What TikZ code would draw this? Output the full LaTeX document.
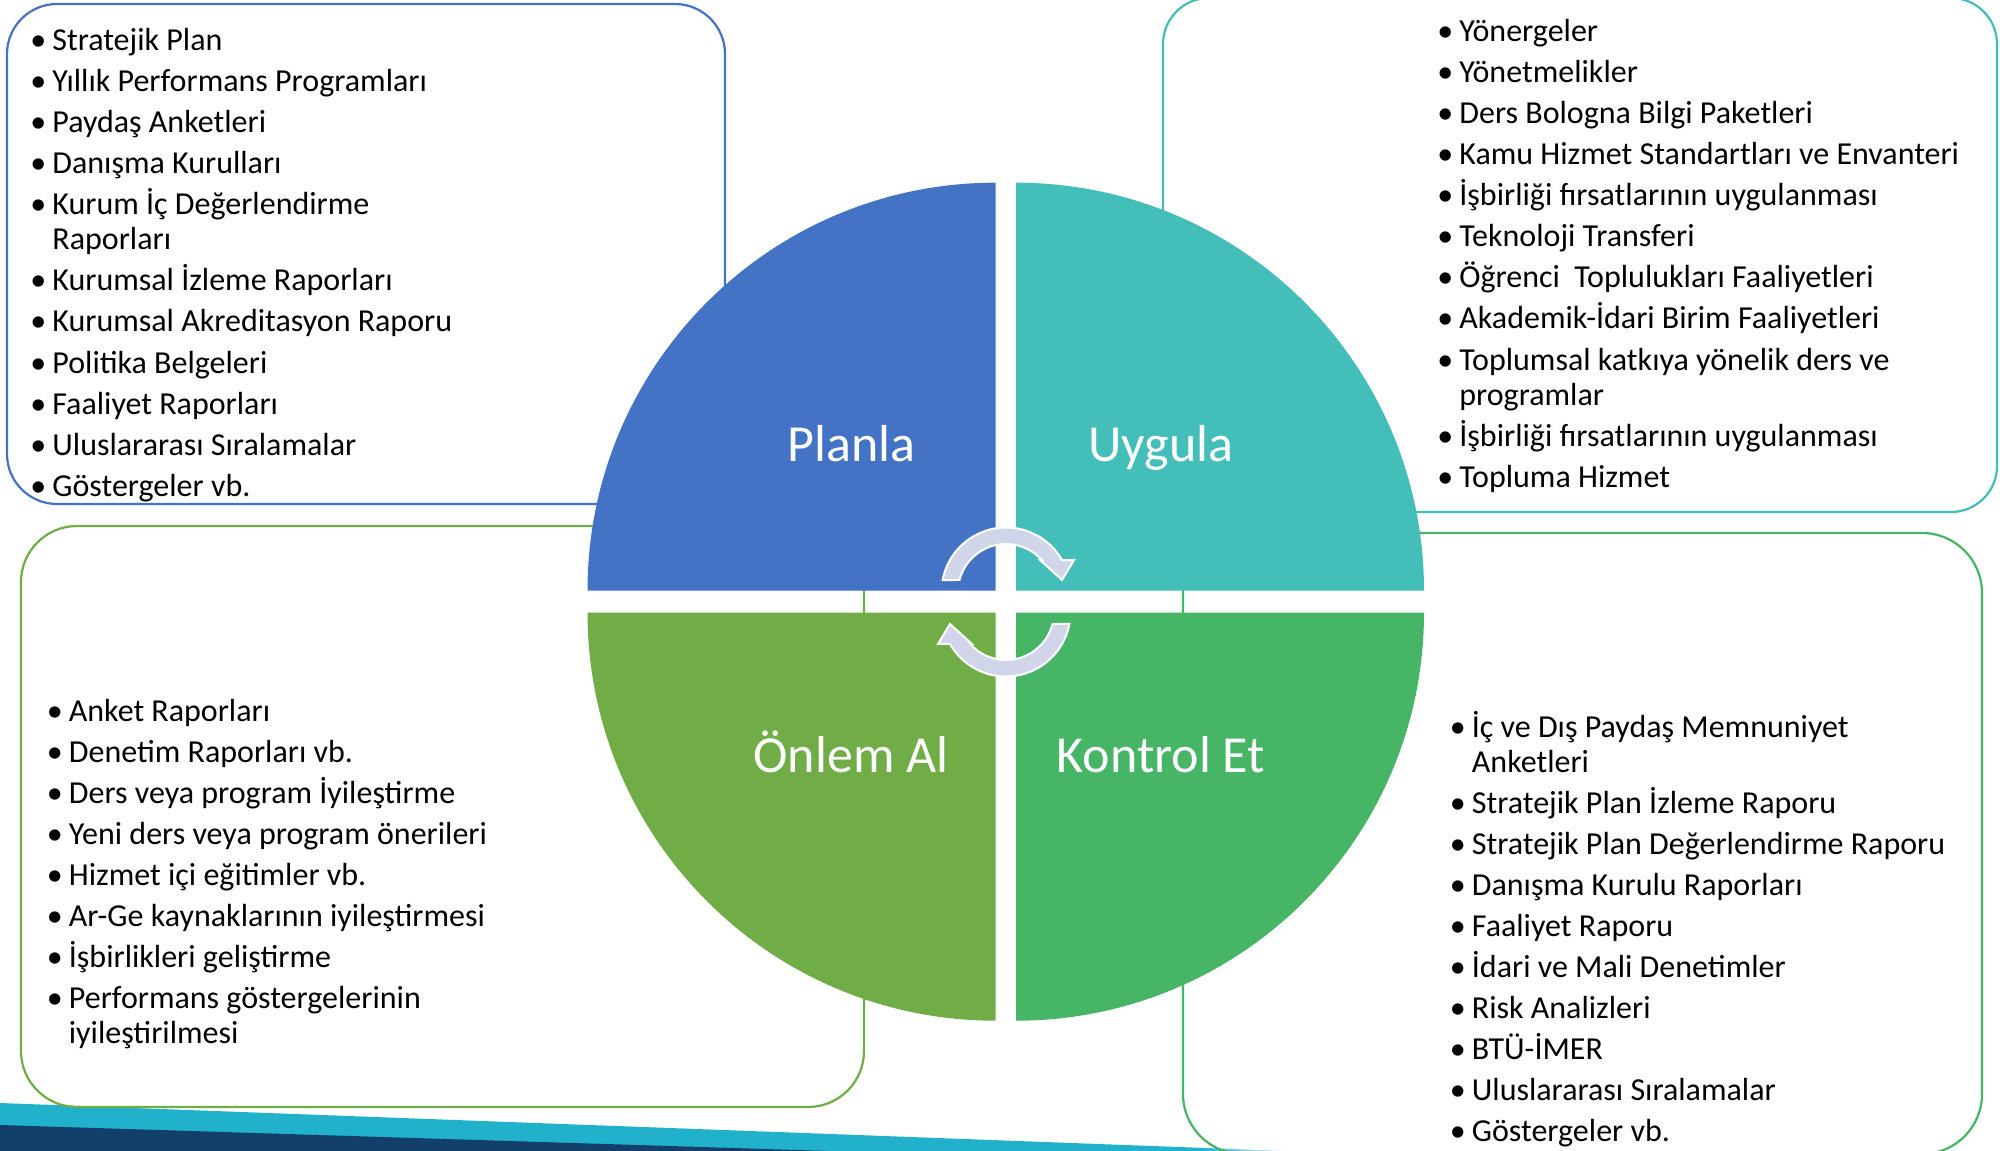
\documentclass[tikz,border=0pt]{standalone}
\usepackage{fontspec}
\setmainfont{Carlito}
\definecolor{cblue}{HTML}{4472C4}
\definecolor{cteal}{HTML}{43BEB8}
\definecolor{cgreenA}{HTML}{70AD47}
\definecolor{cgreenB}{HTML}{47B566}
\definecolor{carrow}{HTML}{D0D5EA}
\definecolor{ccyan}{HTML}{21B1CB}
\definecolor{cnavy}{HTML}{12406A}
\newlength\bw
\setlength\bw{11bp}
\newcommand\bl[1]{\par\hangindent=\bw\hangafter=1\noindent\makebox[\bw][l]{\textbullet}#1}
\newcommand\blist[2]{\parbox[t]{#1}{\fontsize{16bp}{17.5bp}\selectfont\setlength\parskip{3bp}#2}}
\begin{document}
\begin{tikzpicture}[x=0.5bp,y=0.5bp,
  boxline/.style={line width=1.1bp, rounded corners=#1},
  listnode/.style={anchor=base west, inner sep=0pt, text=black},
  qlabel/.style={anchor=base, inner sep=0pt, text=white, font=\fontsize{26bp}{30bp}\selectfont},
  arrowshape/.style={fill=carrow, draw=white, line width=1bp, line join=miter}]
\useasboundingbox (0,0) rectangle (2000,-1151);
\fill[white] (0,0) rectangle (2000,-1151);
% bottom stripes
\fill[ccyan] (0,-1103) -- (1200,-1147.8) -- (1200,-1160) -- (0,-1160) -- cycle;
\shade[left color=ccyan, right color=white] (1200,-1147.8) -- (1300,-1151.5) -- (1300,-1160) -- (1200,-1160) -- cycle;
\fill[cnavy] (0,-1125) -- (829,-1151) -- (829,-1160) -- (0,-1160) -- cycle;
% boxes
\draw[boxline=25bp, draw=cblue] (7,-4) rectangle (725,-504);
\draw[boxline=23bp, draw=cteal] (1163,2) rectangle (1997,-512);
\draw[boxline=28bp, draw=cgreenA] (21,-526) rectangle (864,-1107);
\draw[boxline=30bp, draw=cgreenB] (1183,-533) rectangle (1982,-1154);
% quadrants
\fill[cblue] (995.5,-590.7) -- (587.5,-590.7) arc[start angle=180,end angle=90,radius=408] -- cycle;
\fill[cteal] (1016,-590.7) -- (1016,-182.7) arc[start angle=90,end angle=0,radius=408] -- cycle;
\fill[cgreenA] (995.5,-612.7) -- (995.5,-1020.7) arc[start angle=270,end angle=180,radius=408] -- cycle;
\fill[cgreenB] (1016,-612.7) -- (1424,-612.7) arc[start angle=0,end angle=-90,radius=408] -- cycle;
% cycle arrows
\begin{scope}[shift={(1006,-592)}]
\filldraw[arrowshape] (169.28:64.5) arc[start angle=169.28, end angle=29.74, radius=64.5] -- (68,32) -- (56,12) -- (34,32) -- (41.81:48) arc[start angle=41.81, end angle=165.52, radius=48] -- cycle;
\end{scope}
\begin{scope}[shift={(1006,-612)}, rotate=180]
\filldraw[arrowshape] (169.28:64.5) arc[start angle=169.28, end angle=29.74, radius=64.5] -- (68,32) -- (56,12) -- (34,32) -- (41.81:48) arc[start angle=41.81, end angle=165.52, radius=48] -- cycle;
\end{scope}
% quadrant labels
\node[qlabel] (planla) at (851.5,-462) {Planla};
\node[qlabel] (uygula) at (1161,-462) {Uygula};
\node[qlabel] (onlem) at (851,-772) {Önlem Al};
\node[qlabel] (kontrol) at (1161,-772) {Kontrol Et};
% lists
\node[listnode] (planlist) at (30,-51) {\blist{330bp}{%
\bl{Stratejik Plan}%
\bl{Yıllık Performans Programları}%
\bl{Paydaş Anketleri}%
\bl{Danışma Kurulları}%
\bl{Kurum İç Değerlendirme\newline Raporları}%
\bl{Kurumsal İzleme Raporları}%
\bl{Kurumsal Akreditasyon Raporu}%
\bl{Politika Belgeleri}%
\bl{Faaliyet Raporları}%
\bl{Uluslararası Sıralamalar}%
\bl{Göstergeler vb.}}};
\node[listnode] (uygulist) at (1437,-42) {\blist{330bp}{%
\bl{Yönergeler}%
\bl{Yönetmelikler}%
\bl{Ders Bologna Bilgi Paketleri}%
\bl{Kamu Hizmet Standartları ve Envanteri}%
\bl{İşbirliği fırsatlarının uygulanması}%
\bl{Teknoloji Transferi}%
\bl{Öğrenci~ Toplulukları Faaliyetleri}%
\bl{Akademik-İdari Birim Faaliyetleri}%
\bl{Toplumsal katkıya yönelik ders ve\newline programlar}%
\bl{İşbirliği fırsatlarının uygulanması}%
\bl{Topluma Hizmet}}};
\node[listnode] (onlemlist) at (46.5,-721) {\blist{330bp}{%
\bl{Anket Raporları}%
\bl{Denetim Raporları vb.}%
\bl{Ders veya program İyileştirme}%
\bl{Yeni ders veya program önerileri}%
\bl{Hizmet içi eğitimler vb.}%
\bl{Ar-Ge kaynaklarının iyileştirmesi}%
\bl{İşbirlikleri geliştirme}%
\bl{Performans göstergelerinin\newline iyileştirilmesi}}};
\node[listnode] (kontrollist) at (1449.5,-737.5) {\blist{330bp}{%
\bl{İç ve Dış Paydaş Memnuniyet\newline Anketleri}%
\bl{Stratejik Plan İzleme Raporu}%
\bl{Stratejik Plan Değerlendirme Raporu}%
\bl{Danışma Kurulu Raporları}%
\bl{Faaliyet Raporu}%
\bl{İdari ve Mali Denetimler}%
\bl{Risk Analizleri}%
\bl{BTÜ-İMER}%
\bl{Uluslararası Sıralamalar}%
\bl{Göstergeler vb.}}};
\end{tikzpicture}
\end{document}
